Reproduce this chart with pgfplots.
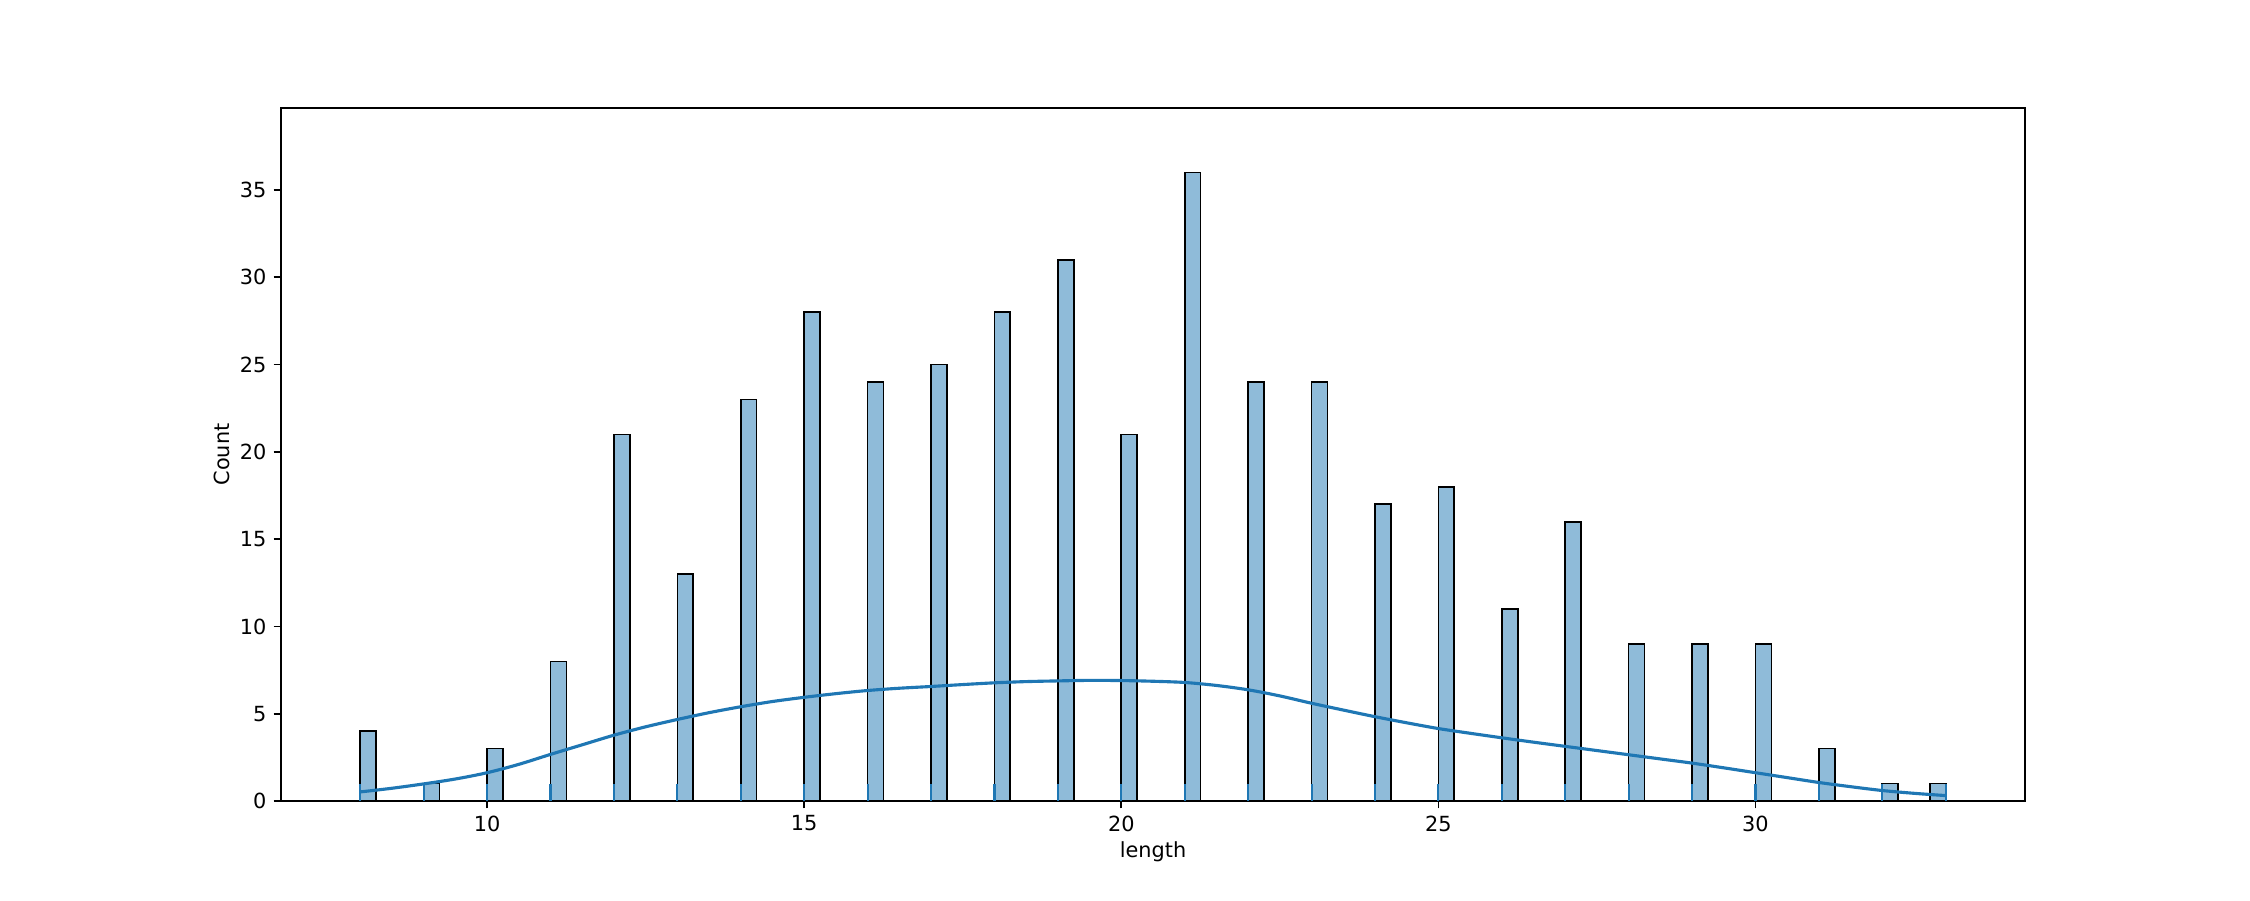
\documentclass[border=0pt]{standalone}
\usepackage{pgfplots}
\pgfplotsset{compat=1.18}
\usepackage{fontspec}
\setmainfont{DejaVu Sans}
\definecolor{C0}{RGB}{31,119,180}
\definecolor{C0h}{RGB}{143,187,217}
\begin{document}
\fontsize{10bp}{12bp}\selectfont
\begin{tikzpicture}
\useasboundingbox (-134.88bp,-47.52bp) rectangle (945.12bp,384.48bp);
\begin{axis}[
  at={(0,0)}, anchor=south west,
  scale only axis,
  width=837.12bp, height=332.64bp,
  xmin=6.75, xmax=34.25, ymin=0, ymax=39.7,
  xtick={10,15,20,25,30}, ytick={0,5,10,15,20,25,30,35},
  tick align=outside,
  major tick length=3.5bp,
  tick style={black, line width=0.8bp},
  axis line style={black, line width=0.8bp},
  xtick pos=bottom, ytick pos=left,
  /pgf/number format/assume math mode=true,
  ticklabel style={font=\fontsize{10bp}{12bp}\selectfont},
  label style={font=\fontsize{10bp}{12bp}\selectfont},
  xlabel={length}, ylabel={Count},
  xlabel style={yshift=2bp},
  ylabel style={yshift=-2bp},
  xticklabel style={yshift=0bp},
]
\addplot[ybar, bar width=0.25, bar shift=0pt, fill=C0h, draw=black, line width=0.8bp] table {
x y
8.125 4
9.125 1
10.125 3
11.125 8
12.125 21
13.125 13
14.125 23
15.125 28
16.125 24
17.125 25
18.125 28
19.125 31
20.125 21
21.125 36
22.125 24
23.125 24
24.125 17
25.125 18
26.125 11
27.125 16
28.125 9
29.125 9
30.125 9
31.125 3
32.125 1
32.875 1
};
\addplot[ycomb, C0, line width=1bp, no marks] table {
x y
8 0.99
9 0.99
10 0.99
11 0.99
12 0.99
13 0.99
14 0.99
15 0.99
16 0.99
17 0.99
18 0.99
19 0.99
20 0.99
21 0.99
22 0.99
23 0.99
24 0.99
25 0.99
26 0.99
27 0.99
28 0.99
29 0.99
30 0.99
31 0.99
32 0.99
33 0.99
};
\addplot[C0, line width=1.5bp, smooth, no marks] table {
x y
8 0.52
8.5 0.73
9 0.98
9.5 1.26
10 1.62
10.5 2.1
11 2.67
11.5 3.22
12 3.77
12.5 4.25
13 4.67
13.5 5.06
14 5.40
14.5 5.70
15 5.94
15.5 6.15
16 6.33
16.5 6.46
17 6.56
17.5 6.67
18 6.77
18.5 6.84
19 6.88
19.5 6.91
20 6.90
20.5 6.86
21 6.79
21.5 6.62
22 6.37
22.5 6.02
23 5.60
23.5 5.21
24 4.83
24.5 4.48
25 4.15
25.5 3.88
26 3.62
26.5 3.37
27 3.13
27.5 2.89
28 2.65
28.5 2.41
29 2.17
29.5 1.90
30 1.62
30.5 1.34
31 1.06
31.5 0.82
32 0.60
32.5 0.44
33 0.31
};
\end{axis}
\end{tikzpicture}
\end{document}
